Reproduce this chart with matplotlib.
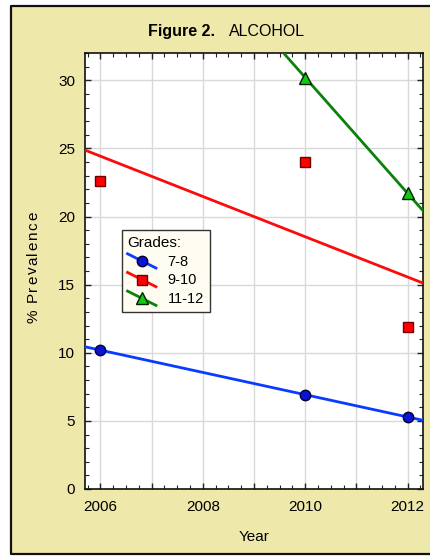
import numpy as np
import matplotlib
matplotlib.use("Agg")
import matplotlib.pyplot as plt
from matplotlib.lines import Line2D
from matplotlib.legend_handler import HandlerLine2D
from matplotlib.patches import Rectangle
from matplotlib.font_manager import FontProperties
from matplotlib.ticker import MultipleLocator, FuncFormatter

plt.rcParams['font.family'] = ['Liberation Sans', 'DejaVu Sans']

# Survey prevalence by grade group
years_78 = [2006, 2010, 2012]
prev_78 = [10.2, 6.9, 5.3]
years_910 = [2006, 2010, 2012]
prev_910 = [22.6, 24.0, 11.9]
years_1112 = [2010, 2012]
prev_1112 = [30.2, 21.7]

grade_labels = ["7-8", "9-10", "11-12"]
line_colors = ["#0a3cff", "#ff0a0a", "#0a820a"]
face_colors = ["#0a14d2", "#ff0000", "#14c814"]
edge_colors = ["#000033", "#6e0000", "#002000"]
markers = ["o", "s", "^"]

XMIN, XMAX = 2005.7, 2012.3
YMIN, YMAX = 0, 32
W, H = 430, 556

fig = plt.figure(figsize=(W / 100, H / 100), dpi=100)
fig.patch.set_facecolor("white")

# khaki panel; border drawn on left, top and bottom only
fig.patches.append(Rectangle((11 / W, 1 - 554 / H), 1.0, 548 / H,
                             transform=fig.transFigure, facecolor="#eee8aa",
                             edgecolor="none", zorder=-10))
bx0, by0, by1 = 11 / W, 1 - 554 / H, 1 - 6 / H
fig.lines.append(Line2D([1.01, bx0, bx0, 1.01], [by1, by1, by0, by0],
                        transform=fig.transFigure, color="#111111", lw=1.6,
                        zorder=-9))

ax = fig.add_axes([85 / W, 1 - 489 / H, 338 / W, 436 / H])
ax.set_facecolor("white")

series = [(years_78, prev_78), (years_910, prev_910), (years_1112, prev_1112)]
handles = []
xfit = np.array([XMIN - 0.5, XMAX + 0.5])
for (xs, ys), lab, lc, fc, ec, mk in zip(series, grade_labels, line_colors,
                                         face_colors, edge_colors, markers):
    slope, icpt = np.polyfit(xs, ys, 1)
    ax.plot(xfit, slope * xfit + icpt, color=lc, lw=2.0, zorder=3)
    ms = 8 if mk == "^" else 7.5
    ax.plot(xs, ys, linestyle="none", marker=mk, markersize=ms,
            markerfacecolor=fc, markeredgecolor=ec, markeredgewidth=1.0,
            zorder=4)
    handles.append(Line2D([], [], color=lc, lw=2.0, marker=mk, markersize=ms,
                          markerfacecolor=fc, markeredgecolor=ec,
                          markeredgewidth=1.0, label=lab))

ax.set_xlim(XMIN, XMAX)
ax.set_ylim(YMIN, YMAX)

ax.xaxis.set_major_locator(MultipleLocator(1))
ax.xaxis.set_minor_locator(MultipleLocator(0.25))
ax.xaxis.set_major_formatter(FuncFormatter(
    lambda v, p: f"{int(round(v))}" if int(round(v)) % 2 == 0 else ""))
ax.yaxis.set_major_locator(MultipleLocator(5))
ax.yaxis.set_minor_locator(MultipleLocator(1))

ax.grid(True, which="major", color="#d9d9d9", lw=1.0, zorder=0)
ax.set_axisbelow(True)
ax.tick_params(which="both", direction="in", top=True, right=True,
               colors="#222222", labelcolor="black", labelsize=11)
ax.tick_params(which="major", length=4, width=1.0)
ax.tick_params(which="minor", length=3, width=0.8)
ax.tick_params(axis="x", pad=8)
ax.tick_params(axis="y", pad=7)
for sp in ax.spines.values():
    sp.set_color("#111111")
    sp.set_linewidth(1.2)


class SlantHandler(HandlerLine2D):
    """Legend key drawn as a slanted segment with the marker at its middle."""

    def create_artists(self, legend, orig_handle, xdescent, ydescent,
                       width, height, fontsize, trans):
        x0, x1 = -xdescent, -xdescent + width
        y0, y1 = -ydescent + height * 1.15, -ydescent - height * 0.25
        seg = Line2D([x0, x1], [y0, y1], color=orig_handle.get_color(),
                     lw=orig_handle.get_linewidth())
        mk = Line2D([(x0 + x1) / 2], [(y0 + y1) / 2],
                    marker=orig_handle.get_marker(),
                    markersize=orig_handle.get_markersize(),
                    markerfacecolor=orig_handle.get_markerfacecolor(),
                    markeredgecolor=orig_handle.get_markeredgecolor(),
                    markeredgewidth=orig_handle.get_markeredgewidth(),
                    linestyle="none")
        seg.set_transform(trans)
        mk.set_transform(trans)
        return [seg, mk]


leg = ax.legend(handles=handles, title="Grades:", loc="upper left",
                bbox_to_anchor=((121.7 - 85) / 338, (489 - 230) / 436),
                handler_map={Line2D: SlantHandler()},
                fontsize=10.5, title_fontsize=11, alignment="left",
                frameon=True, fancybox=False, framealpha=1,
                borderpad=0.4, handlelength=1.95, handletextpad=0.8,
                labelspacing=0.32, borderaxespad=0)
leg.get_frame().set_facecolor("#fffdf2")
leg.get_frame().set_edgecolor("#333333")
leg.get_frame().set_linewidth(1.0)
leg.set_zorder(6)

fig.text(148 / W, 1 - 36 / H, "Figure 2.", fontsize=11.5, fontweight="bold",
         ha="left", va="baseline")
fig.text(229 / W, 1 - 36 / H, "ALCOHOL", fontsize=11.5,
         ha="left", va="baseline")
fig.text(254 / W, 1 - 537 / H, "Year", fontsize=11,
         ha="center", va="center")


def spaced_vertical_text(s, x_base, y_bottom, y_top, size):
    """Write s bottom-to-top, spreading the glyphs evenly between two heights."""
    fp = FontProperties(family=['Liberation Sans', 'DejaVu Sans'], size=size)
    renderer = fig.canvas.get_renderer()
    widths = [renderer.get_text_width_height_descent(c, fp, ismath=False)[0]
              for c in s]
    track = ((y_bottom - y_top) - sum(widths)) / (len(s) - 1)
    pos = 0.0
    for c, w in zip(s, widths):
        y = H - y_bottom + pos
        fig.text(x_base / W, y / H, c, fontproperties=fp, rotation=90,
                 rotation_mode="anchor", ha="left", va="baseline")
        pos += w + track


spaced_vertical_text("% Prevalence", 37, 323, 212, 11)

fig.savefig("out.png", dpi=100, facecolor=fig.get_facecolor())
